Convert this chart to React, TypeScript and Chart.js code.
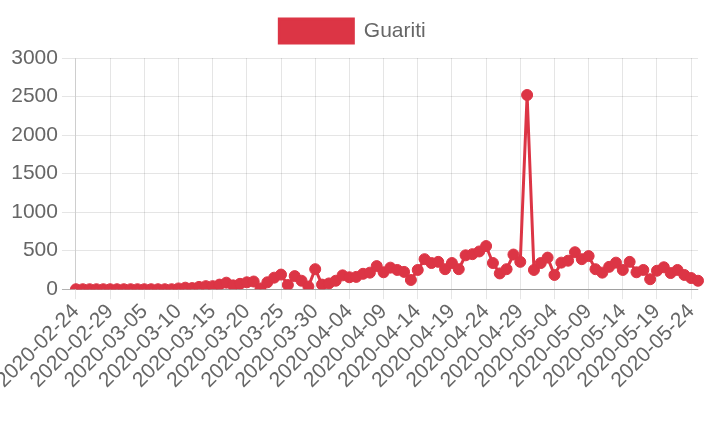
import React, { useEffect, useRef } from "react";
import { Chart, registerables } from "chart.js";

Chart.register(...registerables);

const START_DATE = "2020-02-24";
const DAY_COUNT = 92;

const guariti: number[] = [
  0, 0, 0, 0, 0, 0, 0, 0, 0, 0,
  0, 0, 0, 0, 0, 10, 20, 15, 30, 40,
  40, 60, 85, 50, 70, 90, 100, 10, 90, 150,
  190, 55, 170, 110, 35, 260, 60, 75, 110, 180,
  155, 160, 200, 215, 300, 220, 280, 250, 225, 120,
  250, 390, 340, 355, 260, 340, 260, 440, 455, 490,
  560, 340, 205, 260, 450, 355, 2520, 250, 340, 410,
  185, 345, 370, 480, 390, 430, 260, 215, 290, 345,
  250, 355, 220, 250, 130, 240, 285, 210, 250, 185,
  145, 110,
];

const yTicks = { min: 0, max: 3000, step: 500 };
const tickEvery = 5;

function buildDates(start: string, count: number): string[] {
  const out: string[] = [];
  const d = new Date(start + "T00:00:00Z");
  for (let i = 0; i < count; i++) {
    const c = new Date(d.getTime() + i * 86400000);
    out.push(c.toISOString().slice(0, 10));
  }
  return out;
}

const dates = buildDates(START_DATE, DAY_COUNT);

const RED = "rgb(220,53,69)";

const legendMargin = {
  id: "legendMargin",
  afterInit(chart: any) {
    const legend = chart.legend;
    if (!legend) return;
    const orig = legend.fit;
    legend.fit = function () {
      orig.call(this);
      this.height += 5;
    };
  },
};

export default function App() {
  const ref = useRef<HTMLCanvasElement | null>(null);
  useEffect(() => {
    if (!ref.current) return;
    Chart.defaults.font.family = "'Liberation Sans', Arial, sans-serif";
    Chart.defaults.color = "#666";
    const chart = new Chart(ref.current, {
      type: "line",
      data: {
        labels: dates,
        datasets: [
          {
            label: "Guariti",
            data: guariti,
            borderColor: RED,
            backgroundColor: RED,
            borderWidth: 3,
            pointRadius: 5.5,
            pointBorderWidth: 1,
            pointBackgroundColor: RED,
            pointBorderColor: RED,
            fill: false,
            tension: 0,
          },
        ],
      },
      plugins: [legendMargin],
      options: {
        responsive: false,
        animation: false,
        devicePixelRatio: 1,
        layout: { padding: { left: 7, right: 12, top: 9, bottom: 37 } },
        plugins: {
          legend: {
            position: "top",
            labels: {
              boxWidth: 74,
              boxHeight: 24,
              padding: 10,
              font: { size: 21 },
              color: "#666",
            },
          },
          tooltip: { enabled: false },
        },
        scales: {
          x: {
            grid: {
              color: "rgba(0,0,0,0.1)",
              tickLength: 10,
            },
            border: { color: "rgba(0,0,0,0.1)" },
            ticks: {
              autoSkip: false,
              minRotation: 45,
              maxRotation: 45,
              font: { size: 21 },
              color: "#666",
              padding: 0,
              callback: function (_v: any, i: number) {
                return i % tickEvery === 0 ? dates[i] : null;
              },
            },
          },
          y: {
            min: yTicks.min,
            max: yTicks.max,
            grid: {
              color: (ctx: any) =>
                ctx.tick && ctx.tick.value === 0 ? "rgba(0,0,0,0.3)" : "rgba(0,0,0,0.1)",
              tickLength: 14,
            },
            border: { color: "rgba(0,0,0,0.1)" },
            ticks: {
              stepSize: yTicks.step,
              font: { size: 21 },
              color: "#666",
              padding: 4,
              callback: (v: any) => String(v),
            },
          },
        },
      },
    });
    return () => chart.destroy();
  }, []);
  return (
    <div style={{ position: "absolute", left: 0, top: 0, width: 710, height: 430, background: "#fff" }}>
      <canvas ref={ref} width={710} height={430} />
    </div>
  );
}
